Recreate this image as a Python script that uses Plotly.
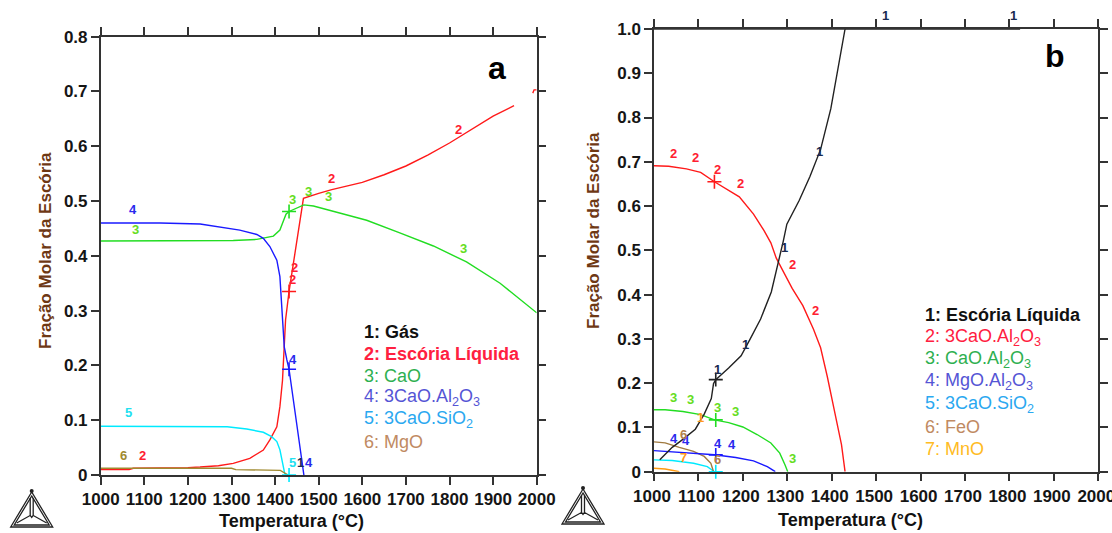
import plotly.graph_objects as go

W, H = 1112, 533

# ---------------- Panel a data ----------------
a_liq_T = [1000, 1065, 1075, 1185, 1200, 1228, 1270, 1304, 1342, 1373, 1388, 1404, 1411, 1417, 1421, 1424,
           1432, 1465, 1500, 1530, 1600, 1650, 1700, 1750, 1800, 1850, 1900, 1948, None, 1991, 1994, 2000]
a_liq_v = [0.0100, 0.0100, 0.0122, 0.0122, 0.0135, 0.0146, 0.017, 0.0213, 0.0304, 0.0456, 0.064, 0.088, 0.1247,
           0.173, 0.234, 0.283, 0.335, 0.505, 0.514, 0.521, 0.534, 0.548, 0.564, 0.584, 0.606, 0.630, 0.655, 0.674,
           None, 0.697, 0.703, 0.703]
a_cao_T = [1000, 1150, 1304, 1358, 1373, 1396, 1411, 1419, 1425, 1432, 1449, 1466, 1488, 1533, 1610, 1686,
           1763, 1839, 1916, 2000]
a_cao_v = [0.427, 0.427, 0.428, 0.430, 0.432, 0.436, 0.447, 0.465, 0.476, 0.481, 0.487, 0.493, 0.491, 0.481,
           0.465, 0.442, 0.418, 0.389, 0.350, 0.296]
a_c3a_T = [1000, 1136, 1228, 1289, 1319, 1358, 1373, 1388, 1404, 1411, 1417, 1421, 1427, 1432, 1466]
a_c3a_v = [0.460, 0.460, 0.458, 0.451, 0.447, 0.439, 0.432, 0.417, 0.392, 0.362, 0.295, 0.234, 0.210, 0.193, 0.0]
a_c3s_T = [1000, 1290, 1335, 1373, 1392, 1404, 1411, 1417, 1422, 1426]
a_c3s_v = [0.089, 0.088, 0.084, 0.078, 0.070, 0.061, 0.046, 0.021, 0.003, 0.0]
a_mgo_T = [1000, 1300, 1310, 1400, 1412, 1430]
a_mgo_v = [0.0122, 0.0122, 0.0098, 0.0097, 0.0085, 0.0]

a_cross_T = [1432, 1432, 1432, 1432]
a_cross_v = [0.335, 0.481, 0.193, 0.0]

a_labels = [  # T, value, text, series index
    (1075, 0.485, "4", 4), (1080, 0.449, "3", 3), (1064, 0.114, "5", 5), (1052, 0.035, "6", 6),
    (1095, 0.035, "2", 2), (1440, 0.503, "3", 3), (1477, 0.518, "3", 3), (1522, 0.509, "3", 3),
    (1530, 0.541, "2", 2), (1820, 0.631, "2", 2), (1832, 0.414, "3", 3), (1444, 0.378, "2", 2),
    (1440, 0.357, "2", 2), (1440, 0.211, "4", 4), (1440, 0.022, "5", 5), (1458, 0.022, "1", 1),
    (1477, 0.022, "4", 4),
]

# ---------------- Panel b data ----------------
b_liq_T = [1013, 1041, 1065, 1093, 1113, 1129, 1134, 1139, 1168, 1196, 1216, 1240, 1264, 1279, 1291, 1299,
           1311, 1327, 1351, 1375, 1398, 1414, 1430, 1824]
b_liq_v = [0.027, 0.055, 0.073, 0.096, 0.130, 0.165, 0.199, 0.208, 0.234, 0.262, 0.299, 0.345, 0.406, 0.467,
           0.521, 0.559, 0.582, 0.613, 0.667, 0.728, 0.820, 0.912, 1.0, 1.0]
b_c3a_T = [1000, 1033, 1073, 1105, 1136, 1168, 1192, 1224, 1248, 1263, 1275, 1287, 1311, 1335, 1359, 1375,
           1390, 1406, 1422, 1430]
b_c3a_v = [0.691, 0.690, 0.684, 0.676, 0.655, 0.636, 0.621, 0.582, 0.544, 0.517, 0.483, 0.460, 0.414, 0.375,
           0.322, 0.280, 0.215, 0.138, 0.061, 0.0]
b_ca_T = [1000, 1025, 1065, 1105, 1136, 1168, 1200, 1232, 1263, 1283, 1295, 1301]
b_ca_v = [0.140, 0.140, 0.136, 0.129, 0.117, 0.111, 0.101, 0.084, 0.065, 0.042, 0.015, 0.0]
b_ma_T = [1000, 1041, 1089, 1136, 1184, 1224, 1255, 1273]
b_ma_v = [0.0475, 0.0444, 0.042, 0.0383, 0.032, 0.0245, 0.0115, 0.0]
b_c3s_T = [1000, 1041, 1089, 1120, 1136]
b_c3s_v = [0.0268, 0.0253, 0.019, 0.0115, 0.0]
b_feo_T = [1000, 1025, 1057, 1089, 1113, 1128, 1134]
b_feo_v = [0.0674, 0.065, 0.055, 0.046, 0.0345, 0.019, 0.0]
b_mno_T = [1000, 1025, 1049, 1057]
b_mno_v = [0.0077, 0.006, 0.0015, 0.0]

b_cross_T = [1139, 1136, 1139, 1139, 1139]
b_cross_v = [0.208, 0.655, 0.117, 0.038, 0.0]
b_cross_s = [1, 2, 3, 4, 5]

b_labels = [
    (1521, 1.031, "1", 1), (1810, 1.031, "1", 1), (1373, 0.724, "1", 1), (1293, 0.507, "1", 1),
    (1206, 0.287, "1", 1), (1144, 0.230, "1", 1), (1105, 0.123, "1", 7),
    (1045, 0.718, "2", 2), (1093, 0.709, "2", 2), (1144, 0.682, "2", 2), (1194, 0.651, "2", 2),
    (1311, 0.469, "2", 2), (1363, 0.364, "2", 2),
    (1045, 0.167, "3", 3), (1083, 0.163, "3", 3), (1144, 0.146, "3", 3), (1184, 0.136, "3", 3),
    (1311, 0.029, "3", 3),
    (1045, 0.075, "4", 4), (1073, 0.071, "4", 4), (1144, 0.063, "4", 4), (1176, 0.061, "4", 4),
    (1067, 0.084, "6", 6), (1144, 0.027, "6", 6), (1067, 0.031, "7", 7),
]

a_legend = ["1: Gás", "2: Escória Líquida", "3: CaO", "4: 3CaO.Al<sub>2</sub>O<sub>3</sub>",
            "5: 3CaO.SiO<sub>2</sub>", "6: MgO"]
b_legend = ["1: Escória Líquida", "2: 3CaO.Al<sub>2</sub>O<sub>3</sub>", "3: CaO.Al<sub>2</sub>O<sub>3</sub>",
            "4: MgO.Al<sub>2</sub>O<sub>3</sub>", "5: 3CaO.SiO<sub>2</sub>", "6: FeO", "7: MnO"]

x_ticks = [1000, 1100, 1200, 1300, 1400, 1500, 1600, 1700, 1800, 1900, 2000]
a_yticks = [0, 0.1, 0.2, 0.3, 0.4, 0.5, 0.6, 0.7, 0.8]
a_yticktext = ["0", "0.1", "0.2", "0.3", "0.4", "0.5", "0.6", "0.7", "0.8"]
b_yticks = [0, 0.1, 0.2, 0.3, 0.4, 0.5, 0.6, 0.7, 0.8, 0.9, 1.0]
b_yticktext = ["0", "0.1", "0.2", "0.3", "0.4", "0.5", "0.6", "0.7", "0.8", "0.9", "1.0"]
a_xrange, a_yrange = [1000, 2000], [0, 0.8]
b_xrange, b_yrange = [1000, 2000], [0, 1.0]

# ---------------- styles ----------------
FONT = "Liberation Sans, Arial, sans-serif"
line_a = {1: "#222222", 2: "#ff1a1a", 3: "#22dd22", 4: "#1a1aff", 5: "#00eaff", 6: "#a08a30"}
line_b = {1: "#222222", 2: "#ff1a1a", 3: "#22dd22", 4: "#1a1aff", 5: "#00eaff", 6: "#a07a40", 7: "#ff9a10"}
lab_col = {1: "#1a2a50", 2: "#ff2030", 3: "#66dd22", 4: "#2a2aee", 5: "#22e0f0", 6: "#a08a30", 7: "#ff9a20"}
lab_col_b = {**lab_col, 6: "#b0804a"}
leg_col = ["#111111", "#ff2040", "#2eb050", "#5555d5", "#2aa8f0", "#c08a62", "#ffbb22"]

fig = go.Figure()


def add_line(T, v, color, xa, ya):
    fig.add_trace(go.Scatter(x=T, y=v, mode="lines", line=dict(color=color, width=1.4),
                             xaxis=xa, yaxis=ya, showlegend=False, hoverinfo="skip",
                             connectgaps=False))


# panel a lines (red under olive)
add_line(a_liq_T, a_liq_v, line_a[2], "x", "y")
add_line(a_cao_T, a_cao_v, line_a[3], "x", "y")
add_line(a_c3a_T, a_c3a_v, line_a[4], "x", "y")
add_line(a_c3s_T, a_c3s_v, line_a[5], "x", "y")
add_line(a_mgo_T, a_mgo_v, line_a[6], "x", "y")
a_cross_c = [line_a[2], line_a[3], line_a[4], line_a[5]]
fig.add_trace(go.Scatter(x=a_cross_T, y=a_cross_v, mode="markers", xaxis="x", yaxis="y",
                         marker=dict(symbol="cross-thin", size=10, line=dict(width=1.6, color=a_cross_c)),
                         showlegend=False, hoverinfo="skip", cliponaxis=False))

# panel b lines
add_line(b_mno_T, b_mno_v, line_b[7], "x2", "y2")
add_line(b_c3s_T, b_c3s_v, line_b[5], "x2", "y2")
add_line(b_feo_T, b_feo_v, line_b[6], "x2", "y2")
add_line(b_ma_T, b_ma_v, line_b[4], "x2", "y2")
add_line(b_ca_T, b_ca_v, line_b[3], "x2", "y2")
add_line(b_c3a_T, b_c3a_v, line_b[2], "x2", "y2")
add_line(b_liq_T, b_liq_v, line_b[1], "x2", "y2")
fig.add_trace(go.Scatter(x=b_cross_T, y=b_cross_v, mode="markers", xaxis="x2", yaxis="y2",
                         marker=dict(symbol="cross-thin", size=10,
                                     line=dict(width=1.6, color=[line_b[s] for s in b_cross_s])),
                         showlegend=False, hoverinfo="skip", cliponaxis=False))

annotations = []


def curve_label(T, v, t, color, xa, ya, yr):
    lab = dict(x=T, y=v, xref=xa, yref=ya, text=t, showarrow=False, xanchor="center", yanchor="middle",
               font=dict(family=FONT, size=13, color=color, weight="bold"))
    # labels outside the value range are positioned in axis-domain units so they stay visible
    if v > yr[1] or v < yr[0]:
        lab.update(y=(v - yr[0]) / (yr[1] - yr[0]), yref=ya + " domain")
    return lab


for T, v, t, s in a_labels:
    annotations.append(curve_label(T, v, t, lab_col[s], "x", "y", a_yrange))
for T, v, t, s in b_labels:
    annotations.append(curve_label(T, v, t, lab_col_b[s], "x2", "y2", b_yrange))


def px(x):
    return x / W


def py(y):
    return 1 - y / H


def paper_text(x, y, text, font, xanchor="center", angle=0):
    return dict(x=px(x), y=py(y), xref="paper", yref="paper", text=text, showarrow=False,
                xanchor=xanchor, yanchor="middle", textangle=angle, font=font)


# legends
for i, t in enumerate(a_legend):
    annotations.append(paper_text(362, 331.5 + 22 * i, t,
                                  dict(family=FONT, size=18, color=leg_col[i],
                                       weight="bold" if i < 2 else "normal"), xanchor="left"))
for i, t in enumerate(b_legend):
    annotations.append(paper_text(923, 315 + 22.3 * i, t,
                                  dict(family=FONT, size=18, color=leg_col[i],
                                       weight="bold" if i == 0 else "normal"), xanchor="left"))

# panel letters
annotations.append(paper_text(497, 68, "a", dict(family=FONT, size=32, color="#000", weight="bold")))
annotations.append(paper_text(1055, 56, "b", dict(family=FONT, size=32, color="#000", weight="bold")))

# axis titles
title_font = dict(family=FONT, size=18, color="#111111", weight="bold")
ytitle_font = dict(family=FONT, size=17, color="#6e3814", weight="bold")
annotations.append(paper_text(291, 521, "Temperatura (°C)", title_font))
annotations.append(paper_text(850, 520, "Temperatura (°C)", title_font))
annotations.append(paper_text(46, 251, "Fração Molar da Escória", ytitle_font, angle=-90))
annotations.append(paper_text(593, 231, "Fração Molar da Escória", ytitle_font, angle=-90))

# Thermo-Calc style logo (decorative)
shapes = []


def logo(cx, top, base, half):
    def P(x, y):
        return f"{px(x):.5f},{py(y):.5f}"
    outer = f"M {P(cx, top)} L {P(cx - half, base)} L {P(cx + half, base)} Z"
    o2 = f"M {P(cx, top + 4)} L {P(cx - half + 3.5, base - 2)} L {P(cx + half - 3.5, base - 2)} Z"
    cy = base - (base - top) * 0.33
    inner = (f"M {P(cx - 1.5, top + 6)} L {P(cx - 1.5, cy)} L {P(cx - half + 6, base - 4)} "
             f"M {P(cx + 1.5, top + 6)} L {P(cx + 1.5, cy)} L {P(cx + half - 6, base - 4)} "
             f"M {P(cx - 1.5, cy)} L {P(cx, cy + 2)} L {P(cx + 1.5, cy)}")
    for p in (outer, o2, inner):
        shapes.append(dict(type="path", path=p, xref="paper", yref="paper",
                           line=dict(color="#222", width=1.3)))
    shapes.append(dict(type="circle", xref="paper", yref="paper",
                       x0=px(cx - 2), x1=px(cx + 2), y0=py(top + 1), y1=py(top - 3),
                       fillcolor="#222", line=dict(width=0)))


logo(31.7, 492, 527, 21)
logo(583, 489, 524, 21)

# partial top frame for panel b (frame runs until the liquid curve reaches the top)
b_top_join = b_liq_T[b_liq_v.index(1.0)]
shapes.append(dict(type="line", xref="x2", yref="y2", x0=b_xrange[0], x1=b_top_join, y0=1.0, y1=1.0,
                   line=dict(color="#333", width=1.4)))

tickfont = dict(family=FONT, size=17, color="#151515", weight="bold")
ax_common = dict(showgrid=False, zeroline=False, showline=True, linecolor="#333", linewidth=1.5,
                 ticks="outside", ticklen=8, tickwidth=1.5, tickcolor="#333", tickfont=tickfont,
                 fixedrange=True, automargin=False)

fig.update_layout(
    width=W, height=H, margin=dict(l=0, r=0, t=0, b=0, autoexpand=False),
    paper_bgcolor="white", plot_bgcolor="white", showlegend=False,
    xaxis=dict(domain=[px(100.7), px(536.7)], range=a_xrange, tickvals=x_ticks,
               mirror="allticks", anchor="y", ticklabeloverflow="allow", **ax_common),
    yaxis=dict(domain=[py(475), py(36.7)], range=a_yrange, tickvals=a_yticks, ticktext=a_yticktext,
               mirror="allticks", anchor="x", **ax_common),
    xaxis2=dict(domain=[px(654), px(1098.3)], range=b_xrange, tickvals=x_ticks,
                mirror="ticks", anchor="y2", ticklabeloverflow="allow", ticklabelshift=-2, **ax_common),
    yaxis2=dict(domain=[py(471.7), py(29)], range=b_yrange, tickvals=b_yticks, ticktext=b_yticktext,
                mirror="allticks", anchor="x2", **ax_common),
    annotations=annotations, shapes=shapes,
)

# remove the default page margin so the figure starts at the window's top-left corner
page_fix = ("document.documentElement.style.margin='0';document.body.style.margin='0';"
            "document.body.style.padding='0';document.body.style.overflow='hidden';")
fig.write_html("out.html", post_script=page_fix, config={"displayModeBar": False})
